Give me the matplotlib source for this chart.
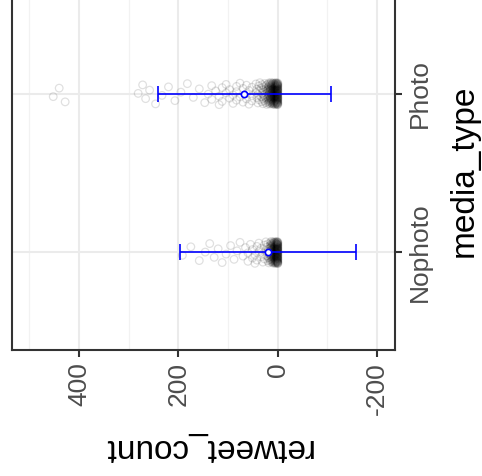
import matplotlib
matplotlib.use("Agg")
import numpy as np
import matplotlib.pyplot as plt
from matplotlib.ticker import MultipleLocator

plt.rcParams['font.family'] = ['Liberation Sans', 'DejaVu Sans']

# категории и сводные статистики (среднее ± sd)
media_types = ["Nophoto", "Photo"]
mean_retweets = [20, 67]
sd_retweets = [177, 174]

# retweet_count: значение и сколько твитов с таким значением
nophoto_values = [0, 1, 2, 3, 4, 5, 6, 7, 8, 9, 10, 11, 12, 13, 14, 15, 16, 18, 20, 22, 24,
                  27, 30, 34, 38, 42, 46, 51, 55, 60, 65, 70, 76, 82, 88, 95,
                  104, 112, 120, 128, 137, 146, 158, 175, 192]
nophoto_freq = [35, 14, 13, 12, 11, 10, 9, 8, 7, 7, 6, 5, 5, 4, 4, 4, 3, 3, 3, 2, 2,
                2, 2, 2, 2, 2, 2, 2, 1, 2, 1, 1, 1, 1, 1, 1,
                1, 1, 1, 1, 1, 1, 1, 1, 1]

photo_values = [0, 1, 2, 3, 4, 5, 6, 7, 8, 9, 10, 11, 12, 13, 14, 15, 16, 17, 18, 19, 20,
                22, 24, 26, 28, 30, 32, 34, 36, 38, 40, 42, 44,
                52, 58, 63, 70, 76, 83, 90, 97, 104, 112, 118, 125, 133, 140, 147,
                158, 170, 182, 195, 207, 220, 233, 246, 258, 266, 272, 281,
                428, 440, 452]
photo_freq = [30, 12, 11, 11, 10, 10, 9, 9, 8, 8, 7, 7, 6, 6, 6, 5, 5, 5, 4, 4, 4,
              4, 4, 3, 3, 3, 3, 2, 2, 2, 2, 2, 2,
              3, 2, 3, 2, 2, 3, 2, 2, 2, 2, 2, 1, 2, 1, 1,
              1, 1, 1, 1, 1, 1, 1, 1, 1, 1, 1, 1,
              1, 1, 1]


def jitter(n, width=0.07):
    # детерминированный разброс по вертикали вместо случайного
    return ((np.arange(n) * 0.618034) % 1 - 0.5) * 2 * width


fig = plt.figure(figsize=(4.82, 4.76), dpi=100)
ax = fig.add_axes([12 / 482, 1 - 350 / 476, 383 / 482, 350 / 476])

groups = [(nophoto_values, nophoto_freq), (photo_values, photo_freq)]
for pos, (vals, freq) in enumerate(groups, start=1):
    counts = np.repeat(vals, freq)
    ax.scatter(counts, pos + jitter(len(counts)), s=30, facecolors='none',
               edgecolors='black', linewidths=0.9, alpha=0.12, zorder=3)

# среднее ± sd
for pos, (m, sd) in enumerate(zip(mean_retweets, sd_retweets), start=1):
    ax.errorbar(m, pos, xerr=sd, fmt='o', color='#0000ff', ms=4.5, mfc='white',
                mew=1.2, elinewidth=1.2, capsize=5.5, capthick=1.2, zorder=4)

ax.set_xlim(535, -236)
ax.set_ylim(0.386, 2.589)
ax.set_yticks([1, 2])
ax.set_yticklabels(media_types, rotation=90, va='center')
ax.set_xticks([-200, 0, 200, 400])
ax.set_xticklabels(['-200', '0', '200', '400'], rotation=90, ha='center')
ax.xaxis.set_minor_locator(MultipleLocator(100))

ax.yaxis.tick_right()
ax.yaxis.set_label_position('right')
ax.tick_params(axis='both', which='major', length=5, width=1.5, color='#333333',
               labelsize=19, labelcolor='#4d4d4d', pad=4)
ax.tick_params(axis='x', which='minor', length=0)

ax.grid(True, which='major', color='#ebebeb', linewidth=1.5, zorder=0)
ax.grid(True, which='minor', axis='x', color='#f2f2f2', linewidth=0.9, zorder=0)
ax.set_axisbelow(True)

for side in ['left', 'right', 'bottom']:
    ax.spines[side].set_color('#333333')
    ax.spines[side].set_linewidth(1.5)
ax.spines['top'].set_visible(False)

fig.text(207 / 482, 1 - 448 / 476, 'retweet_count', rotation=180,
         ha='center', va='center', fontsize=24)
fig.text(464 / 482, 1 - 171 / 476, 'media_type', rotation=90,
         ha='center', va='center', fontsize=24)

fig.savefig('out.png', dpi=100)
